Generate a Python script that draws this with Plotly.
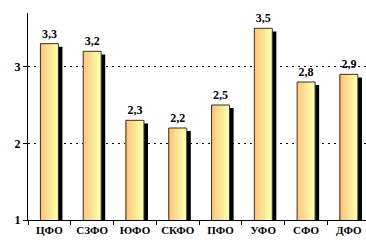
import plotly.graph_objects as go

categories = ["ЦФО", "СЗФО", "ЮФО", "СКФО", "ПФО", "УФО", "СФО", "ДФО"]
values = [3.3, 3.2, 2.3, 2.2, 2.5, 3.5, 2.8, 2.9]
y_ticks = [1, 2, 3]

labels = [f"{v:.1f}".replace(".", ",") for v in values]

bar_w = 0.42
shadow_dx = 0.095
n_slices = 10
c0 = (253, 196, 128)
c1 = (255, 255, 168)

fig = go.Figure()

# shadow
fig.add_trace(go.Bar(
    x=categories, y=[v - 0.04 for v in values],
    width=bar_w, offset=-bar_w / 2 + shadow_dx,
    marker=dict(color="black", line=dict(width=0)),
    hoverinfo="skip", showlegend=False))

# gradient slices
sw = bar_w / n_slices
for i in range(n_slices):
    t = i / (n_slices - 1)
    col = "rgb({},{},{})".format(*[round(a + (b - a) * t) for a, b in zip(c0, c1)])
    fig.add_trace(go.Bar(
        x=categories, y=values,
        width=sw * 1.05, offset=-bar_w / 2 + i * sw,
        marker=dict(color=col, line=dict(width=0)),
        hoverinfo="skip", showlegend=False))

# outline + labels
fig.add_trace(go.Bar(
    x=categories, y=values,
    width=bar_w, offset=-bar_w / 2,
    marker=dict(color="rgba(0,0,0,0)", line=dict(color="#333333", width=1)),
    text=labels, textposition="outside", cliponaxis=False,
    textfont=dict(family="Liberation Serif", size=12, color="black", weight="bold"),
    showlegend=False))

fig.update_layout(
    width=366, height=247,
    margin=dict(l=28, r=0, t=13, b=27),
    paper_bgcolor="white", plot_bgcolor="white",
    barmode="overlay",
    xaxis=dict(
        type="category", range=[-0.5, 7.4], automargin=False,
        tickson="boundaries", ticks="outside", ticklen=4, tickcolor="black",
        tickangle=0,
        showline=True, linecolor="black", linewidth=1,
        showgrid=False,
        tickfont=dict(family="Liberation Serif", size=11, color="black", weight="bold"),
    ),
    yaxis=dict(
        range=[1, 3.7], tickvals=y_ticks, automargin=False,
        ticks="outside", ticklen=4, tickcolor="black",
        showline=True, linecolor="black", linewidth=1,
        showgrid=True, gridcolor="black", griddash="2px,4px", gridwidth=1,
        zeroline=False,
        tickfont=dict(family="Liberation Serif", size=12, color="black", weight="bold"),
    ),
)

fig.write_html("out.html", config={"displayModeBar": False},
               post_script="document.body.style.margin='0';document.body.style.overflow='hidden';")
